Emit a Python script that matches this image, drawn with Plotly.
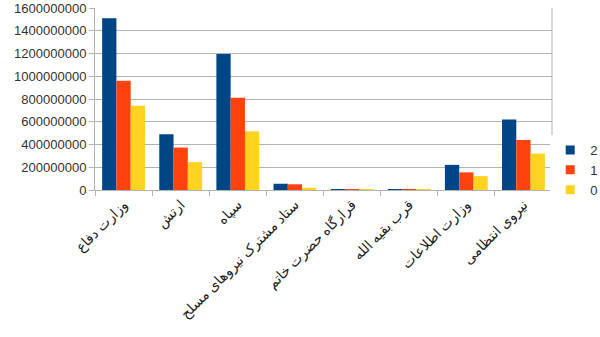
import plotly.graph_objects as go

categories = ["وزارت دفاع", "ارتش", "سپاه", "ستاد مشترک نیروهای مسلح",
              "قرارگاه حضرت خاتم", "قرب بقیه الله", "وزارت اطلاعات", "نیروی انتظامی"]
series_names = ["2", "1", "0"]
values_2 = [1510000000, 490000000, 1195000000, 55000000, 8000000, 7000000, 221000000, 620000000]
values_1 = [960000000, 373000000, 810000000, 50000000, 5000000, 5000000, 155000000, 440000000]
values_0 = [740000000, 245000000, 516000000, 20000000, 2000000, 2000000, 122000000, 320000000]
colors = ["#004586", "#ff420e", "#ffd320"]
yticks = [0, 200000000, 400000000, 600000000, 800000000, 1000000000, 1200000000, 1400000000, 1600000000]

fig = go.Figure()
for name, vals, col in zip(series_names, [values_2, values_1, values_0], colors):
    fig.add_trace(go.Bar(x=categories, y=vals, name=name, marker_color=col,
                         marker_line_width=0, showlegend=False))
# legend entries with small square symbols
for name, col in zip(series_names, colors):
    fig.add_trace(go.Scatter(x=[None], y=[None], mode="markers", name=name,
                             marker=dict(symbol="square", size=9, color=col)))

fig.update_layout(
    width=600, height=337,
    margin=dict(l=95, r=48, t=8, b=147, autoexpand=False),
    paper_bgcolor="white", plot_bgcolor="white",
    barmode="group", bargap=0.25, bargroupgap=0,
    font=dict(family="Liberation Sans, Arial, sans-serif", size=13, color="#333333"),
    legend=dict(xref="container", yref="container", x=0.917, xanchor="left",
                y=(337 - 205) / 337, yanchor="bottom",
                font=dict(size=13, color="#333333"), itemwidth=30, tracegroupgap=0),
    showlegend=True,
)
fig.update_xaxes(tickangle=-45, ticks="outside", tickson="boundaries", ticklen=5,
                 tickcolor="#b3b3b3", showline=True, linecolor="#b3b3b3",
                 tickfont=dict(family="Noto Sans, DejaVu Sans, sans-serif", size=14, color="#222222"))
fig.update_yaxes(range=[0, 1600000000], tickvals=yticks,
                 ticktext=[str(v) for v in yticks], showgrid=True, gridcolor="#b3b3b3",
                 ticks="outside", ticklen=5, tickcolor="#b3b3b3",
                 showline=True, linecolor="#b3b3b3", zeroline=False,
                 tickfont=dict(size=13, color="#333333"))
fig.add_shape(type="line", xref="paper", yref="paper", x0=1, x1=1, y0=0, y1=1,
              line=dict(color="#b3b3b3", width=1))

fig.write_html("out.html")
